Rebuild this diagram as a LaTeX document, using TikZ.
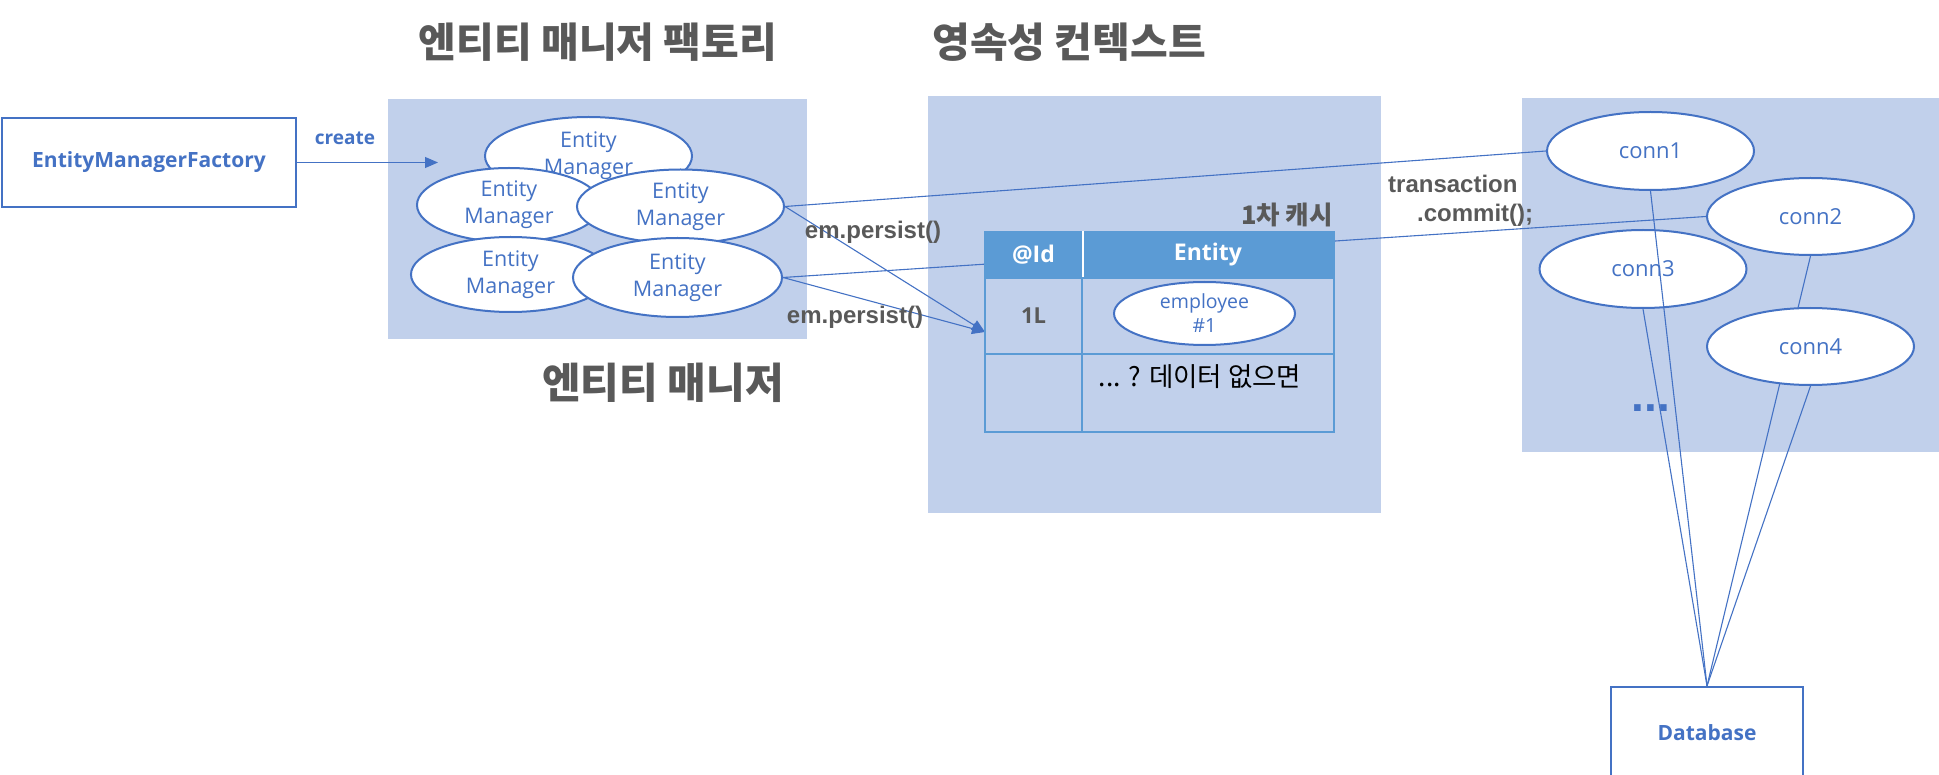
\documentclass[tikz,border=0pt]{standalone}
\usepackage{fontspec}
\newfontfamily\krfont{Noto Sans CJK KR}
\newfontfamily\osfont{Open Sans}
\newfontfamily\lsfont{Liberation Sans}
\usetikzlibrary{arrows.meta,shapes.geometric}
\definecolor{regionblue}{RGB}{193,208,235}
\definecolor{lineblue}{RGB}{68,114,196}
\definecolor{tblblue}{RGB}{91,155,213}
\definecolor{titlegray}{RGB}{89,89,89}
\tikzset{
  region/.style={fill=regionblue, draw=none, inner sep=0pt},
  emnode/.style={ellipse, draw=lineblue, line width=2pt, fill=white, inner sep=0pt, align=center, text=lineblue, font=\osfont\fontsize{21.5}{27}\selectfont},
  connnode/.style={ellipse, draw=lineblue, line width=2pt, fill=white, inner sep=0pt, text=lineblue, font=\osfont\fontsize{22}{25}\selectfont, minimum width=207pt, minimum height=78pt},
  boxnode/.style={rectangle, draw=lineblue, line width=2.2pt, fill=white, inner sep=0pt, text=lineblue, font=\osfont\bfseries\fontsize{21}{25}\selectfont},
  wire/.style={draw=lineblue, line width=1.1pt},
  arr/.style={wire, -{Triangle[length=13pt,width=11pt]}},
  cell/.style={rectangle, draw=tblblue, line width=1.5pt, inner sep=0pt},
  hcell/.style={cell, fill=tblblue, text=white, font=\osfont\bfseries\fontsize{23}{27}\selectfont},
  title/.style={text=titlegray, inner sep=0pt, font=\krfont\bfseries\fontsize{40}{46}\selectfont},
  graylabel/.style={text=titlegray, inner sep=0pt, font=\lsfont\bfseries\fontsize{24}{29}\selectfont},
}
\begin{document}
\begin{tikzpicture}[x=1pt,y=-1pt]
\useasboundingbox (0,0) rectangle (1939,775);
% regions
\node[region, minimum width=419pt, minimum height=240pt] (emfreg) at (597.5,219) {};
\node[region, minimum width=453pt, minimum height=417pt] (pcreg) at (1154.5,304.5) {};
\node[region, minimum width=423pt, minimum height=354pt] (connreg) at (1733.5,275) {};
% titles
\node[title, font=\krfont\bfseries\fontsize{41}{46}\selectfont] (t1) at (598,42) {엔티티 매니저 팩토리};
\node[title, font=\krfont\bfseries\fontsize{41}{46}\selectfont] (t2) at (1069,42) {영속성 컨텍스트};
\node[title, font=\krfont\bfseries\fontsize{42}{48}\selectfont] (t3) at (663,383) {엔티티 매니저};
% factory
\node[boxnode, minimum width=294pt, minimum height=89pt] (emf) at (149,162.5) {EntityManagerFactory};
\coordinate (createtip) at (438,162.5);
\draw[arr] (emf.east) -- (createtip);
\node[text=lineblue, inner sep=0pt, font=\osfont\bfseries\fontsize{19}{23}\selectfont] (createlbl) at (345,138) {create};
% entity managers
\node[emnode, minimum width=207pt, minimum height=78pt] (emT) at (588.5,156) {Entity\\Manager};
\node[emnode, minimum width=184pt, minimum height=74pt] (emML) at (509,205) {Entity\\Manager};
\node[emnode, minimum width=207pt, minimum height=74pt] (emMR) at (680.5,206.5) {Entity\\Manager};
\node[emnode, minimum width=199pt, minimum height=75pt] (emBL) at (510.5,274.5) {Entity\\Manager};
\node[emnode, minimum width=209pt, minimum height=79pt] (emBR) at (677.5,277.5) {Entity\\Manager};
% conn ellipses (declared for wires)
\node[connnode] (conn1) at (1650.5,151) {conn1};
\node[connnode, minimum height=77pt] (conn2) at (1810.5,216.5) {conn2};
% wires from EMs to connections
\draw[wire] (emMR.east) -- (conn1.west);
\draw[wire] (emBR.east) -- (conn2.west);
\coordinate (tgt) at (985,332);
\draw[arr] (emMR.east) -- (tgt);
\draw[arr] (emBR.east) -- (tgt);
% table
\node[hcell, minimum width=97pt, minimum height=46pt] (hid) at (1033.5,255) {@Id};
\node[hcell, minimum width=252pt, minimum height=46pt] (hent) at (1208,255) {Entity};
\draw[white, line width=2pt] (hid.north east) -- (hid.south east);
\node[cell, minimum width=97pt, minimum height=76pt, text=titlegray, font=\osfont\bfseries\fontsize{22}{26}\selectfont] (r1id) at (1033.5,316) {1L};
\node[cell, minimum width=252pt, minimum height=76pt] (r1ent) at (1208,316) {};
\node[cell, minimum width=97pt, minimum height=78pt] (r2id) at (1033.5,393) {};
\node[cell, minimum width=252pt, minimum height=78pt] (r2ent) at (1208,393) {};
\node[ellipse, draw=lineblue, line width=2pt, fill=white, inner sep=0pt, align=center, text=lineblue, font=\osfont\fontsize{19.5}{24}\selectfont, minimum width=181pt, minimum height=63pt] (emp) at (1204.5,313.5) {employee\\\#1};
\node[inner sep=0pt, text=black, font=\krfont\fontsize{26.5}{30}\selectfont] (nodata) at (1200,377) {... ? 데이터 없으면};
\node[text=titlegray, inner sep=0pt, anchor=east, font=\krfont\bfseries\fontsize{25.5}{29}\selectfont] (cache) at (1333,215) {1차 캐시};
% labels
\node[graylabel] (p1) at (873,232) {em.persist()};
\node[graylabel] (p2) at (855,317) {em.persist()};
\node[graylabel, align=left, anchor=west] (commit) at (1388,200.5) {transaction\\\hspace*{29pt}.commit();};
% connection pool
\node[connnode] (conn3) at (1643,269) {conn3};
\node[boxnode, minimum width=192pt, minimum height=92pt] (db) at (1707,733) {Database};
\draw[wire] (conn1.south) -- (db.north);
\draw[wire] (conn3.south) -- (db.north);
\draw[wire] (conn2.south) -- (db.north);
\node[connnode, minimum height=77pt] (conn4) at (1810.5,346.5) {conn4};
\draw[wire] (conn4.south) -- (db.north);
\node[text=lineblue, inner sep=0pt, font=\lsfont\bfseries\fontsize{46}{50}\selectfont] (dots) at (1651,408) {...};
\end{tikzpicture}
\end{document}
